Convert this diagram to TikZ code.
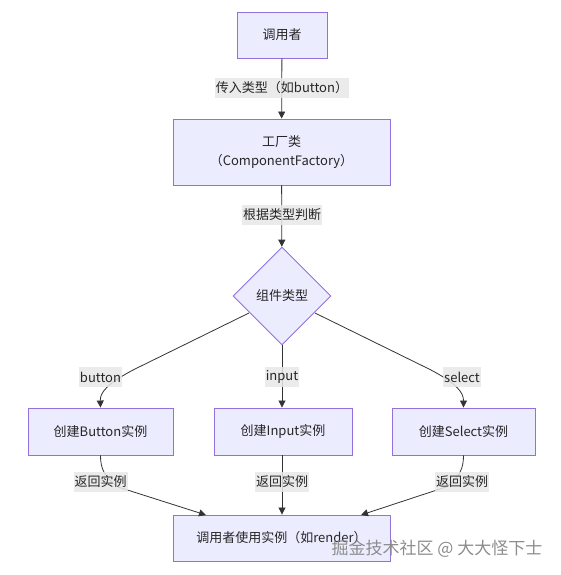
\documentclass[tikz,border=0pt]{standalone}
\usepackage{fontspec}
\setmainfont{Noto Sans CJK SC}
\usetikzlibrary{shapes.geometric,arrows.meta}
\definecolor{boxfill}{HTML}{ECECFF}
\definecolor{boxline}{HTML}{9370DB}
\definecolor{edge}{HTML}{333333}
\definecolor{lblbg}{HTML}{E8E8E8}
\tikzset{
  box/.style={draw=boxline, fill=boxfill, line width=0.9pt, font=\fontsize{13}{19}\selectfont, align=center, inner sep=0pt, text=black!85},
  decide/.style={draw=boxline, fill=boxfill, line width=0.9pt, diamond, aspect=1, minimum width=98pt, minimum height=98pt, inner sep=0pt, font=\fontsize{13}{16}\selectfont, text=black!85},
  lbl/.style={fill=lblbg, fill opacity=0.85, text opacity=1, inner xsep=1pt, inner ysep=0pt, minimum height=20pt, font=\fontsize{13}{16}\selectfont, text=black!85},
  conn/.style={draw=edge, line width=0.8pt, -{Triangle[length=7pt,width=7pt]}},
  plain/.style={draw=edge, line width=0.8pt},
}
\begin{document}
\begin{tikzpicture}[x=1pt,y=-1pt]
\useasboundingbox (0,0) rectangle (560,575);
% nodes
\node[box, minimum width=90pt, minimum height=46pt] (caller) at (282,35) {调用者};
\node[box, minimum width=217pt, minimum height=66pt] (factory) at (281.5,152) {工厂类\\（ComponentFactory）};
\node[decide] (kind) at (282,296) {组件类型};
\node[box, minimum width=145pt, minimum height=47pt] (btn) at (100.5,431.5) {创建Button实例};
\node[box, minimum width=138pt, minimum height=47pt] (inp) at (283,431.5) {创建Input实例};
\node[box, minimum width=143pt, minimum height=47pt] (sel) at (463.5,431.5) {创建Select实例};
\node[box, minimum width=217pt, minimum height=46pt] (use) at (281.5,538) {调用者使用实例（如render）};
% coordinates for curved connectors
\coordinate (kL) at (249,313);
\coordinate (kR) at (315,313);
\coordinate (uL) at (206,515);
\coordinate (uR) at (361,515);
% connectors
\draw[conn] (caller) -- (factory);
\draw[conn] (factory) -- (kind);
\draw[conn] (kL) -- (135,369) .. controls (106,384) and (100,393) .. (btn.north);
\draw[conn] (kind.south) -- (inp.north -| kind.south);
\draw[conn] (kR) -- (429,369) .. controls (458,384) and (463.5,393) .. (sel.north);
\draw[conn] (btn.south) .. controls (100.5,468) and (104,477) .. (118,487) -- (uL);
\draw[conn] (inp.south -| kind.south) -- (use.north -| kind.south);
\draw[conn] (sel.south) .. controls (463.5,468) and (460,477) .. (446,487) -- (uR);
% edge labels
\node[lbl] (l1) at (282,88) {传入类型（如button）};
\node[lbl] (l2) at (282,215) {根据类型判断};
\node[lbl] (l3) at (100.5,377) {button};
\node[lbl] (l4) at (282,377) {input};
\node[lbl] (l5) at (462,377) {select};
\node[lbl] (l6) at (100.5,482) {返回实例};
\node[lbl] (l7) at (282,482) {返回实例};
\node[lbl] (l8) at (462,482) {返回实例};
% watermark
\node[text=black!45, font=\fontsize{17}{20}\selectfont, inner sep=0pt] (wm) at (437,549) {掘金技术社区 @ 大大怪下士};
\end{tikzpicture}
\end{document}
